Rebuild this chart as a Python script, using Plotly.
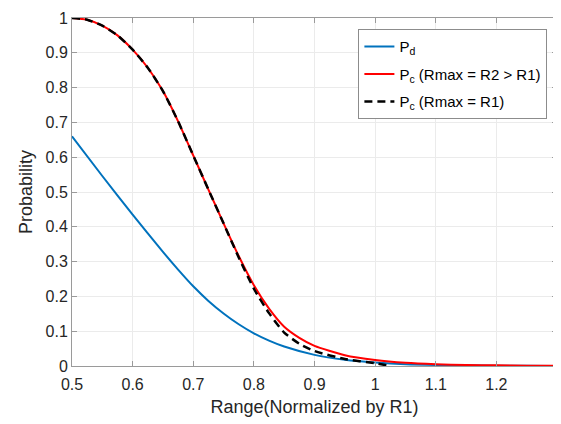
import plotly.graph_objects as go

# Pd (blue)
rng_pd = [0.5, 0.55, 0.6, 0.65, 0.675, 0.7, 0.725, 0.75, 0.775, 0.8, 0.825, 0.85, 0.9, 0.95, 1.0,
          1.05, 1.1, 1.15, 1.2, 1.25, 1.3]
pd_vals = [0.66, 0.546, 0.435, 0.328, 0.277, 0.229, 0.187, 0.151, 0.12, 0.094, 0.073, 0.056, 0.032,
           0.018, 0.01, 0.005, 0.003, 0.002, 0.001, 0.0005, 0.0]

# Pc, Rmax = R2 > R1 (red)
rng_pc2 = [0.5, 0.525, 0.55, 0.575, 0.6, 0.625, 0.65, 0.675, 0.7, 0.725, 0.75, 0.775, 0.8,
           0.825, 0.85, 0.875, 0.9, 0.95, 1.0, 1.05, 1.1, 1.15, 1.2, 1.25, 1.3]
pc2_vals = [1.0, 0.995, 0.978, 0.95, 0.909, 0.857, 0.79, 0.703, 0.605, 0.507, 0.41, 0.316, 0.232,
            0.165, 0.113, 0.081, 0.058, 0.031, 0.017, 0.009, 0.005, 0.003, 0.002, 0.001, 0.001]

# Pc, Rmax = R1 (black dashed)
rng_pc1 = [0.5, 0.525, 0.55, 0.575, 0.6, 0.625, 0.65, 0.675, 0.7, 0.725, 0.75, 0.775, 0.8,
           0.825, 0.85, 0.875, 0.9, 0.95, 1.0, 1.025]
pc1_vals = [1.0, 0.995, 0.978, 0.95, 0.909, 0.857, 0.79, 0.703, 0.605, 0.507, 0.41, 0.312, 0.222,
            0.152, 0.096, 0.064, 0.043, 0.02, 0.008, 0.0]

font = "Liberation Sans, Arial, sans-serif"
axis_col = "#9A9A9A"

fig = go.Figure()
fig.add_trace(go.Scatter(x=rng_pd, y=pd_vals, mode="lines", name="P<sub>d</sub>", legendgroup="a",
                         line=dict(color="#0072BD", width=2, shape="spline", smoothing=0.6)))
fig.add_trace(go.Scatter(x=rng_pc2, y=pc2_vals, mode="lines", name="P<sub>c</sub> (Rmax = R2 > R1)",
                         legendgroup="b",
                         line=dict(color="#FF0000", width=2, shape="spline", smoothing=0.6)))
fig.add_trace(go.Scatter(x=rng_pc1, y=pc1_vals, mode="lines", name="P<sub>c</sub> (Rmax = R1)",
                         legendgroup="c",
                         line=dict(color="black", width=2.5, dash="8px,5px", shape="spline", smoothing=0.6)))

fig.update_layout(
    width=552, height=414,
    margin=dict(l=64, r=2, t=7, b=56),
    paper_bgcolor="white", plot_bgcolor="white",
    font=dict(family=font, size=16, color="#262626"),
    showlegend=True,
    legend=dict(x=0.5905, y=0.968, xanchor="left", yanchor="top",
                bgcolor="white", bordercolor="#8C8C8C", borderwidth=1,
                font=dict(size=15, color="#000000"), tracegroupgap=5, itemwidth=30),
    xaxis=dict(range=[0.5, 1.3], tickvals=[0.5, 0.6, 0.7, 0.8, 0.9, 1.0, 1.1, 1.2],
               ticktext=["0.5", "0.6", "0.7", "0.8", "0.9", "1", "1.1", "1.2"],
               showgrid=True, gridcolor="#EBEBEB", zeroline=False,
               showline=True, linecolor=axis_col, mirror="ticks",
               ticks="inside", ticklen=5, tickcolor=axis_col, ticklabelstandoff=4,
               ticklabeloverflow="allow",
               title=dict(text="Range(Normalized by R1)", font=dict(size=18), standoff=8)),
    yaxis=dict(range=[0, 1], tickvals=[i / 10 for i in range(11)],
               ticktext=["0", "0.1", "0.2", "0.3", "0.4", "0.5", "0.6", "0.7", "0.8", "0.9", "1"],
               showgrid=True, gridcolor="#EBEBEB", zeroline=False,
               showline=True, linecolor=axis_col, mirror="ticks",
               ticks="inside", ticklen=5, tickcolor=axis_col, ticklabeloverflow="allow",
               title=dict(text="Probability", font=dict(size=18), standoff=8)),
)

fig.write_html("out.html")
